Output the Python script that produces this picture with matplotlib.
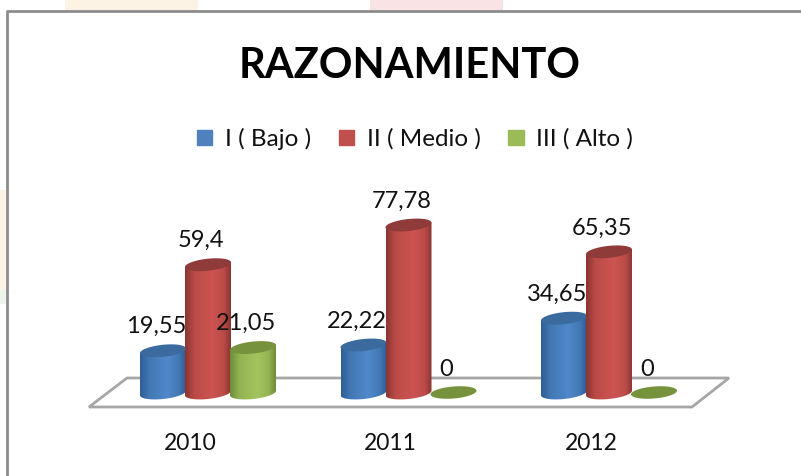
import matplotlib
matplotlib.use('Agg')
import matplotlib.pyplot as plt
import numpy as np
from matplotlib.colors import LinearSegmentedColormap
from matplotlib.patches import Patch, PathPatch, Polygon, Rectangle
from matplotlib.path import Path

plt.rcParams['font.family'] = ['Lato', 'DejaVu Sans']

years = ['2010', '2011', '2012']
series_names = ['I ( Bajo )', 'II ( Medio )', 'III ( Alto )']
bajo = [19.55, 22.22, 34.65]
medio = [59.4, 77.78, 65.35]
alto = [21.05, 0, 0]
bajo_labels = ['19,55', '22,22', '34,65']
medio_labels = ['59,4', '77,78', '65,35']
alto_labels = ['21,05', '0', '0']

legend_colors = ['#4f81bd', '#c0504d', '#9bbb59']
top_colors = ['#3a6a9e', '#8f3b39', '#76923c']
edge_colors = ['#2f5e94', '#8a3633', '#6f8c3a']
side_colors = ['#4278b4', '#bb4b48', '#93b352']
mid_colors = ['#5088cb', '#cc5451', '#a3c45d']

# scale of the picture: pixels per group and per value unit
W, H = 801, 476
x0_px, step_px = 208, 200.5
y0_px, unit_px = 393, 2.16
bar_w = 46 / step_px
offsets = [-45 / step_px, 0, 45 / step_px]


def xd(px):
    return (px - x0_px) / step_px


def yd(py):
    return (y0_px - py) / unit_px


fig = plt.figure(figsize=(W / 100, H / 100), dpi=100, facecolor='white')
ax = fig.add_axes([0, 0, 1, 1])
ax.axis('off')

# faint slide background and chart frame
for x, y, w, h, c in [(65, 0, 133, 11, '#fdf3e4'), (370, 0, 133, 11, '#f9e3e4'),
                      (0, 190, 6, 100, '#fdf3e4'), (0, 290, 6, 14, '#ecf5ea')]:
    ax.add_patch(Rectangle((xd(x), yd(y + h)), w / step_px, h / unit_px, fc=c, ec='none', zorder=0))
ax.plot([xd(7), xd(7), xd(801)], [yd(476), yd(11), yd(11)], color='#8c8c8c', lw=2, zorder=1)

# floor of the 3d chart
floor = [(89, 407), (692, 407), (729, 378), (127, 378)]
ax.add_patch(Polygon([(xd(a), yd(b)) for a, b in floor], closed=True, fc='white', ec='#a6a6a6', lw=2, zorder=2))

t = np.linspace(0, 2 * np.pi, 80)
a_px, b_px, tilt = 23, 6, 0.1


def cylinder(xc, val, s, z):
    top = val * unit_px
    if val == 0:
        ex = 23 * np.cos(t)
        ey = 6 * np.sin(t) + 0.08 * ex
        ax.fill(xc + ex / step_px, (ey + 0.5) / unit_px, color=top_colors[s], lw=0, zorder=z)
        return
    # body outline, lower half of the base ellipse then up to the top
    tt = np.linspace(np.pi, 2 * np.pi, 40)
    bx = a_px * np.cos(tt)
    by = b_px * np.sin(tt) + tilt * bx
    xs = np.r_[bx, a_px, -a_px]
    ys = np.r_[by, top + tilt * a_px, top - tilt * a_px]
    body = Path(np.c_[xc + xs / step_px, ys / unit_px], closed=False)
    cmap = LinearSegmentedColormap.from_list('c', [(0, edge_colors[s]), (0.2, side_colors[s]), (0.6, mid_colors[s]),
                                                   (0.85, side_colors[s]), (1, edge_colors[s])])
    grad = np.linspace(0, 1, 64).reshape(1, -1)
    im = ax.imshow(grad, cmap=cmap, aspect='auto', interpolation='bilinear', zorder=z,
                   extent=(xc - bar_w / 2, xc + bar_w / 2, -10, val + 10))
    patch = PathPatch(body, transform=ax.transData, fc='none', ec='none')
    ax.add_patch(patch)
    im.set_clip_path(patch)
    ex = a_px * np.cos(t)
    ey = b_px * np.sin(t) + tilt * ex
    ax.fill(xc + ex / step_px, (top + ey) / unit_px, color=top_colors[s], lw=0, zorder=z + 0.1)


# left to right so each bar sits on the previous one
for i in range(len(years)):
    for s, vals in enumerate([bajo, medio, alto]):
        cylinder(i + offsets[s], vals[i], s, 3 + i + s * 0.2)

for s, (vals, labs) in enumerate(zip([bajo, medio, alto], [bajo_labels, medio_labels, alto_labels])):
    for i, (v, lab) in enumerate(zip(vals, labs)):
        ax.annotate(lab, (i + offsets[s], v), xytext=(-7 * 0.72, 24 * 0.72), textcoords='offset points',
                    ha='center', va='center', fontsize=17, color='#111111', zorder=10)

for i, y in enumerate(years):
    ax.text(i + xd(190), yd(443), y, ha='center', va='center', fontsize=16.5, color='#111111', zorder=10)

ax.text(xd(410), yd(66), 'RAZONAMIENTO', ha='center', va='center', fontsize=30, fontweight='bold', color='black')

handles = [Patch(color=c, label=n) for c, n in zip(legend_colors, series_names)]
ax.legend(handles=handles, ncol=3, loc='center', bbox_to_anchor=(415 / W, 1 - 139 / H), frameon=False,
          fontsize=17.5, handlelength=0.62, handleheight=0.62, handletextpad=0.53, columnspacing=1.15,
          labelcolor='#111111')

ax.set_xlim(xd(0), xd(W))
ax.set_ylim(yd(H), yd(0))
fig.savefig('out.png', dpi=100)
